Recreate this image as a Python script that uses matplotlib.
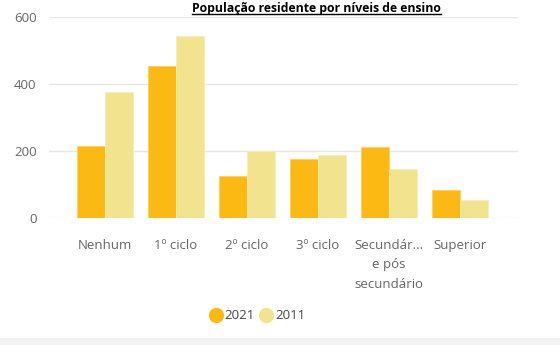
import matplotlib
matplotlib.use("Agg")
import matplotlib.pyplot as plt
import numpy as np
from matplotlib.lines import Line2D
from matplotlib.patches import Rectangle

categories = ["Nenhum", "1º ciclo", "2º ciclo", "3º ciclo",
              "Secundár...\ne pós\nsecundário", "Superior"]
pop_2021 = [216, 454, 126, 175, 212, 84]
pop_2011 = [375, 542, 200, 187, 146, 54]
y_ticks = [0, 200, 400, 600]

C21 = "#FDB913"
C11 = "#F2E48F"
GREY = "#666666"

plt.rcParams["font.family"] = ["Open Sans", "DejaVu Sans"]

fig = plt.figure(figsize=(5.6, 3.45), dpi=100)
ax = fig.add_axes([0.0875, 0.368, 0.8375, 0.583])

x = np.arange(len(categories))
w = 0.395
ax.bar(x - w / 2, pop_2021, w, color=C21, edgecolor="#FFD15A", lw=0.6, zorder=3)
ax.bar(x + w / 2, pop_2011, w, color=C11, edgecolor="#F7EDB5", lw=0.6, zorder=3)

ax.set_xlim(-0.79, 5.82)
ax.set_ylim(0, 600)
ax.set_yticks(y_ticks)
ax.set_xticks(x)
ax.set_xticklabels(categories, linespacing=1.65)
ax.tick_params(axis="both", length=0, colors=GREY, labelsize=9.5)
ax.tick_params(axis="x", pad=15)
ax.tick_params(axis="y", pad=9)
ax.grid(axis="y", color="#E6E6E6", lw=1, zorder=0)
for s in ax.spines.values():
    s.set_visible(False)

title = fig.text(0.565, 0.975, "População residente por níveis de ensino",
                 ha="center", va="center", fontsize=8.8, fontweight="bold",
                 color="black")

# legend
handles = [Line2D([], [], marker="o", ls="", ms=10, color=C21, label="2021"),
           Line2D([], [], marker="o", ls="", ms=10, color=C11, label="2011")]
fig.legend(handles=handles, loc="center", bbox_to_anchor=(0.46, 0.085), ncol=2,
           frameon=False, fontsize=9.5, handlelength=0.9, handletextpad=0.25,
           columnspacing=0.4, labelcolor="#444444")

# grey strip at the bottom
fig.add_artist(Rectangle((0, 0), 1, 0.02, transform=fig.transFigure,
                         color="#F3F3F3", lw=0))

# underline the title
fig.canvas.draw()
bb = title.get_window_extent().transformed(fig.transFigure.inverted())
fig.add_artist(Line2D([bb.x0, bb.x1], [bb.y0 + 0.004, bb.y0 + 0.004],
                      transform=fig.transFigure, color="black", lw=1))

fig.savefig("out.png", dpi=100)
